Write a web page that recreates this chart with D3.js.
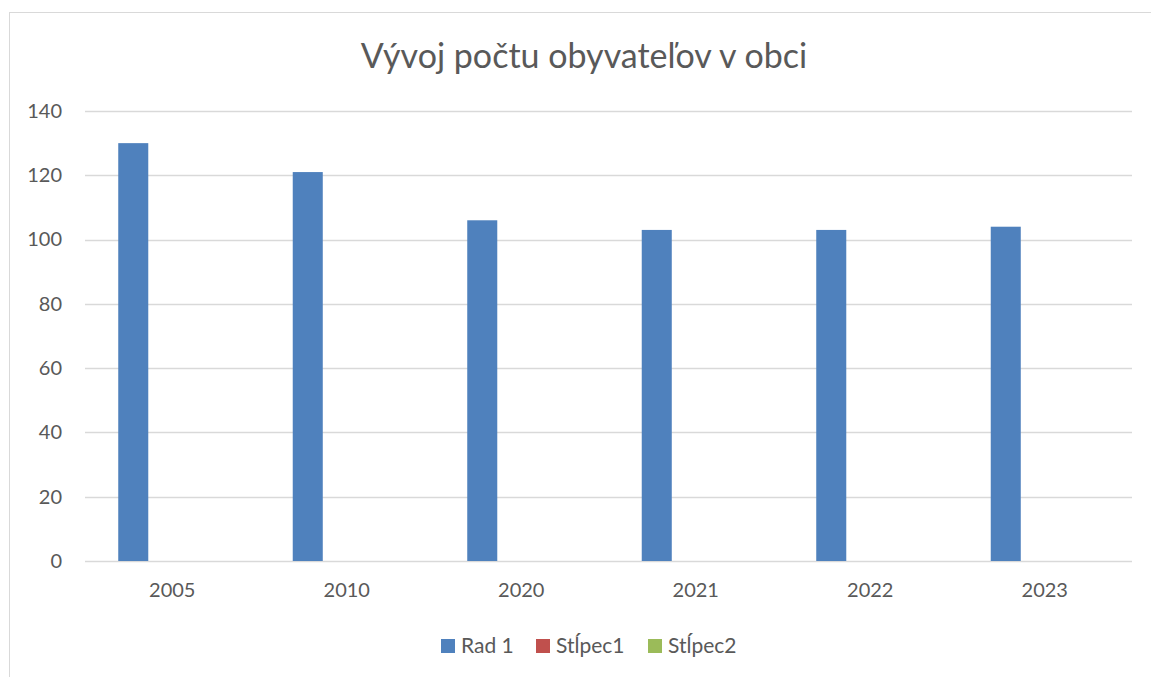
<!DOCTYPE html>
<html>
<head>
<meta charset="utf-8">
<script src="https://cdn.jsdelivr.net/npm/d3@7"></script>
<style>
  body { margin: 0; background: #ffffff; }
  svg { display: block; font-family: Lato, "Open Sans", sans-serif; }
  .tick text { fill: #595959; }
</style>
</head>
<body>
<svg id="chart"></svg>
<script>
// data
var years = ["2005", "2010", "2020", "2021", "2022", "2023"];
var seriesNames = ["Rad 1", "Stĺpec1", "Stĺpec2"];
var seriesColors = ["#4f81bd", "#c0504d", "#9bbb59"];
var rad1 = [130, 121, 106, 103, 103, 104];
var stlpec1 = [null, null, null, null, null, null];
var stlpec2 = [null, null, null, null, null, null];
var yTicks = [0, 20, 40, 60, 80, 100, 120, 140];
var title = "Vývoj počtu obyvateľov v obci";

var drawChart = function(target)
{
    var screen = {width:1151, height:677};
    var margins = {top:111, bottom:116, left:85, right:19};
    var graph =
    {
        width:screen.width-margins.left-margins.right,
        height:screen.height-margins.top-margins.bottom
    }

    var svg = d3.select(target)
        .attr("width",screen.width)
        .attr("height",screen.height)

    // chart area border (runs off the right and bottom)
    svg.append("rect")
        .attr("x",9.5)
        .attr("y",12.5)
        .attr("width",screen.width)
        .attr("height",screen.height)
        .attr("fill","none")
        .attr("stroke","#d9d9d9")
        .attr("stroke-width",1)

    svg.append("text")
        .text(title)
        .attr("x",584)
        .attr("y",68)
        .attr("text-anchor","middle")
        .attr("fill","#595959")
        .style("font-size","34px")

    var xScale = d3.scaleBand()
        .domain(years)
        .range([0,graph.width])
        .paddingInner(0.381)
        .paddingOuter(0.1905)

    var inner = d3.scaleBand()
        .domain(seriesNames)
        .range([0,xScale.bandwidth()])
        .paddingInner(0.23)

    var yScale = d3.scaleLinear()
        .domain([0,140])
        .range([graph.height,0])

    var g = svg.append("g")
        .attr("transform","translate("+margins.left+","+margins.top+")")

    // gridlines
    g.append("g")
        .selectAll("line")
        .data(yTicks)
        .enter()
        .append("line")
        .attr("x1",0)
        .attr("x2",graph.width)
        .attr("y1",function(d){ return Math.round(yScale(d))+0.5; })
        .attr("y2",function(d){ return Math.round(yScale(d))+0.5; })
        .attr("stroke","#d9d9d9")
        .attr("stroke-width",1.5)

    var series = [rad1, stlpec1, stlpec2];
    series.forEach(function(values, s)
    {
        g.append("g")
            .selectAll("rect")
            .data(values)
            .enter()
            .filter(function(d){ return d != null; })
            .append("rect")
            .attr("x",function(d,i){ return xScale(years[i])+inner(seriesNames[s]); })
            .attr("y",function(d){ return yScale(d); })
            .attr("width",inner.bandwidth())
            .attr("height",function(d){ return graph.height-yScale(d); })
            .attr("fill",seriesColors[s])
    })

    var yAxis = d3.axisLeft(yScale)
        .tickValues(yTicks)
        .tickSize(0)
        .tickPadding(23)
    g.append("g")
        .call(yAxis)
        .call(function(a){ a.select(".domain").remove(); })
        .selectAll("text")
        .style("font-size","20px")
        .style("font-family","Lato, sans-serif")

    var xAxis = d3.axisBottom(xScale)
        .tickSize(0)
        .tickPadding(22)
    g.append("g")
        .attr("transform","translate(0,"+graph.height+")")
        .call(xAxis)
        .call(function(a){ a.select(".domain").remove(); })
        .selectAll("text")
        .style("font-size","20px")
        .style("font-family","Lato, sans-serif")

    // legend
    var legendX = [441, 536, 648];
    var legend = svg.append("g")
        .selectAll("g")
        .data(seriesNames)
        .enter()
        .append("g")
        .attr("transform",function(d,i){ return "translate("+legendX[i]+",639)"; })
    legend.append("rect")
        .attr("width",14)
        .attr("height",14)
        .attr("fill",function(d,i){ return seriesColors[i]; })
    legend.append("text")
        .text(function(d){ return d; })
        .attr("x",20)
        .attr("y",14)
        .attr("fill","#595959")
        .style("font-size","21px")
}

drawChart("#chart");
</script>
</body>
</html>
